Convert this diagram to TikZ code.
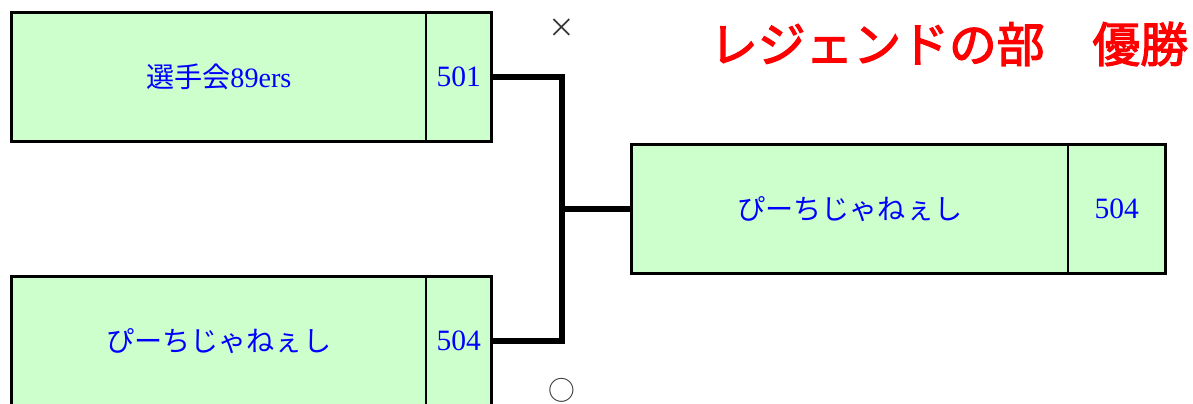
\documentclass[tikz,border=0pt]{standalone}
\usepackage{fontspec}
\setmainfont{Liberation Serif}
\newfontfamily\jp{Noto Sans CJK JP}
\newfontfamily\jpbold[FakeBold=2.5]{Noto Sans CJK JP}
\usetikzlibrary{positioning}
\definecolor{boxgreen}{RGB}{204,255,204}
\def\px{0.025cm}

\begin{document}
\begin{tikzpicture}[x=\px, y=-\px,
    team/.style={draw, fill=boxgreen, line width=2.1pt, inner sep=0pt, outer sep=0pt,
      minimum height=3.225cm, text=blue, font=\fontsize{20}{24}\selectfont},
    score/.style={team, minimum width=1.64cm, font=\fontsize{21}{24}\selectfont},
    bracket/.style={line width=3.6pt},
    result/.style={font=\jp\fontsize{19}{20}\selectfont, text=black!80}]
  \useasboundingbox (0,0) rectangle (1193,403);
  % semifinal, upper
  \node[team, minimum width=10.36cm] (t1) at (218.75,77) {{\jp 選手会}89ers};
  \node[score, right=0pt of t1] (s1) {501};
  % semifinal, lower
  \node[team, minimum width=10.36cm] (t2) at (218.75,341) {\jp ぴーちじゃねぇし};
  \node[score, right=0pt of t2] (s2) {504};
  % final
  \node[team, minimum width=10.91cm] (w) at (849.75,209) {\jp ぴーちじゃねぇし};
  \node[score, minimum width=2.44cm, right=0pt of w] (ws) {504};
  % bracket lines
  \coordinate (j) at (562,209);
  \draw[bracket] (s1.east) -| (j) |- (s2.east);
  \draw[bracket] (j) -- (w.west);
  % results
  \node[result] (lose) at (562,28) {×};
  \node[result] (win) at (562,390) {○};
  \node[text=red, font=\jpbold\fontsize{34}{36}\selectfont] (title) at (949,44) {レジェンドの部　優勝};
\end{tikzpicture}
\end{document}
